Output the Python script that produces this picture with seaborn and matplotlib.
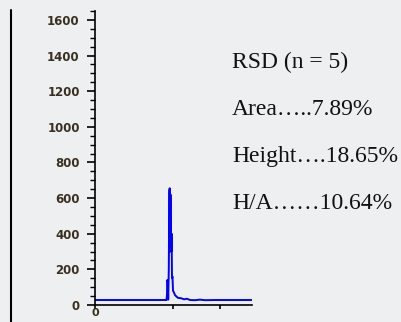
import matplotlib
matplotlib.use("Agg")
import matplotlib.pyplot as plt
from matplotlib.lines import Line2D
from matplotlib.ticker import MultipleLocator
import seaborn as sns
import pandas as pd

# Chromatogram trace (time units, signal)
time = [0, 7.15, 7.2, 7.23, 7.28, 7.32, 7.38, 7.43, 7.47, 7.5, 7.55, 7.6, 7.63,
        7.66, 7.7, 7.75, 7.8, 7.9, 8.0, 8.1, 8.3, 8.6, 8.9, 9.2, 9.5, 10.0,
        10.5, 11.0, 12.0, 15.7]
signal = [28, 28, 60, 140, 130, 30, 200, 640, 655, 300, 620, 380, 300,
          400, 150, 160, 80, 70, 55, 50, 40, 38, 32, 35, 28, 27,
          30, 27, 28, 28]

y_ticks = [0, 200, 400, 600, 800, 1000, 1200, 1400, 1600]
x_ticks = [0, 7.8, 12.5]
x_tick_labels = ["0", "", ""]
annot_lines = ["RSD (n = 5)", "Area\u2026..7.89%", "Height\u2026.18.65%", "H/A\u2026\u202610.64%"]

sns.set_style("ticks")
bg = "#eeeff1"
plt.rcParams["font.family"] = ["DejaVu Sans"]

W, H = 401, 322
fig = plt.figure(figsize=(W / 100, H / 100), dpi=100, facecolor=bg)
ax = fig.add_axes([95 / W, (H - 305) / H, 157 / W, 294 / H])
ax.set_facecolor(bg)

df = pd.DataFrame({"time": time, "signal": signal})
sns.lineplot(data=df, x="time", y="signal", ax=ax, color="#0000ff", linewidth=1.4)

ax.set_xlim(0, 15.7)
ax.set_ylim(0, 1650)
ax.set_yticks(y_ticks)
ax.yaxis.set_minor_locator(MultipleLocator(50))
ax.set_xticks(x_ticks)
ax.set_xticklabels(x_tick_labels)
ax.set_xlabel("")
ax.set_ylabel("")
for s in ["top", "right"]:
    ax.spines[s].set_visible(False)
for s in ["left", "bottom"]:
    ax.spines[s].set_color("black")
    ax.spines[s].set_linewidth(1.2)
ax.tick_params(axis="y", which="major", length=6, width=1.2, color="black",
               labelsize=8.5, labelcolor="#3a3020", pad=5)
ax.tick_params(axis="y", which="minor", length=3.5, width=1.0, color="black")
ax.tick_params(axis="x", which="major", length=3, width=1.2, color="black",
               labelsize=8, labelcolor="#3a3020", pad=-0.5)
for lab in ax.get_yticklabels() + ax.get_xticklabels():
    lab.set_fontweight("bold")

# left frame line
fig.add_artist(Line2D([11 / W, 11 / W], [0, 1 - 10 / H], transform=fig.transFigure,
                      color="black", linewidth=1.5))

baselines = [68, 115, 162, 209]
for txt, yb in zip(annot_lines, baselines):
    fig.text(232 / W, 1 - yb / H, txt, ha="left", va="baseline",
             fontsize=17, family=["Liberation Serif", "DejaVu Serif"], color="#111111")

fig.savefig("out.png", dpi=100, facecolor=bg)
